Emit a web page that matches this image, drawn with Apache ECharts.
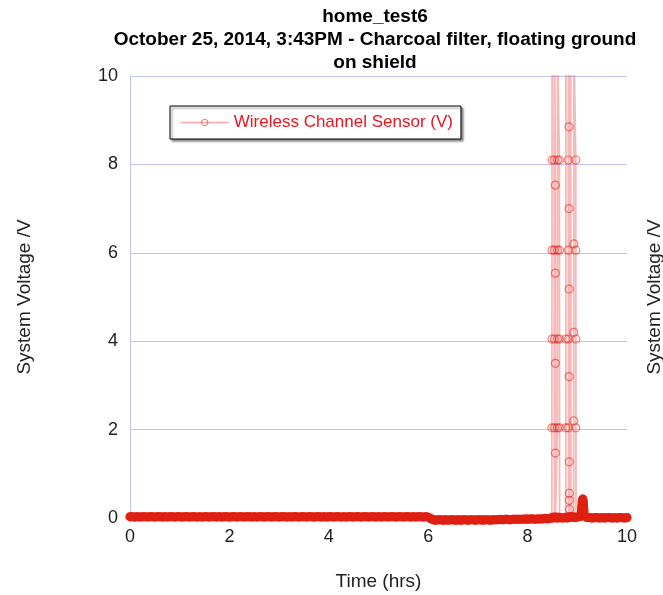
<!DOCTYPE html>
<html>
<head>
<meta charset="utf-8">
<script src="https://cdn.jsdelivr.net/npm/echarts@6/dist/echarts.min.js"></script>
<style>
  html, body { margin: 0; padding: 0; background: #fff; }
  #chart { width: 663px; height: 595px; }
</style>
</head>
<body>
<div id="chart"></div>
<script>
// Logger samples, hours since start (quiet period before the spikes)
const baseTimes = [
  0,0.05,0.1,0.15,0.2,0.25,0.3,0.35,0.4,0.45,0.5,0.55,0.6,0.65,0.7,0.75,0.8,0.85,0.9,0.95,
  1,1.05,1.1,1.15,1.2,1.25,1.3,1.35,1.4,1.45,1.5,1.55,1.6,1.65,1.7,1.75,1.8,1.85,1.9,1.95,
  2,2.05,2.1,2.15,2.2,2.25,2.3,2.35,2.4,2.45,2.5,2.55,2.6,2.65,2.7,2.75,2.8,2.85,2.9,2.95,
  3,3.05,3.1,3.15,3.2,3.25,3.3,3.35,3.4,3.45,3.5,3.55,3.6,3.65,3.7,3.75,3.8,3.85,3.9,3.95,
  4,4.05,4.1,4.15,4.2,4.25,4.3,4.35,4.4,4.45,4.5,4.55,4.6,4.65,4.7,4.75,4.8,4.85,4.9,4.95,
  5,5.05,5.1,5.15,5.2,5.25,5.3,5.35,5.4,5.45,5.5,5.55,5.6,5.65,5.7,5.75,5.8,5.85,5.9,5.95,
  6,6.05,6.1,6.15,6.2,6.25,6.3,6.35,6.4,6.45,6.5,6.55,6.6,6.65,6.7,6.75,6.8,6.85,6.9,6.95,
  7,7.05,7.1,7.15,7.2,7.25,7.3,7.35,7.4,7.45,7.5,7.55,7.6,7.65,7.7,7.75,7.8,7.85,7.9,7.95,
  8,8.05,8.1,8.15,8.2,8.25,8.3,8.35,8.4,8.45
];
// Sensor voltage (V) for baseTimes
const baseVolts = [
  0.03,0.03,0.02,0.03,0.02,0.03,0.03,0.02,0.03,0.03,0.02,0.03,0.03,0.02,0.03,0.02,0.03,0.03,0.02,0.03,
  0.03,0.02,0.03,0.03,0.02,0.03,0.03,0.02,0.03,0.02,0.03,0.03,0.02,0.03,0.03,0.02,0.03,0.02,0.03,0.03,
  0.02,0.03,0.03,0.02,0.03,0.03,0.02,0.03,0.03,0.02,0.03,0.02,0.03,0.03,0.02,0.03,0.03,0.02,0.03,0.03,
  0.02,0.03,0.03,0.02,0.03,0.02,0.03,0.03,0.02,0.03,0.03,0.02,0.03,0.03,0.02,0.03,0.03,0.02,0.03,0.02,
  0.03,0.03,0.02,0.03,0.03,0.02,0.03,0.02,0.03,0.03,0.02,0.03,0.03,0.02,0.03,0.03,0.02,0.03,0.03,0.02,
  0.03,0.02,0.03,0.03,0.02,0.03,0.03,0.02,0.03,0.03,0.02,0.03,0.03,0.02,0.03,0.02,0.03,0.03,0.02,0.03,
  0.02,-0.01,-0.04,-0.05,-0.04,-0.04,-0.05,-0.04,-0.05,-0.04,-0.04,-0.05,-0.04,-0.05,-0.04,-0.04,-0.05,-0.04,-0.04,-0.05,
  -0.04,-0.04,-0.05,-0.04,-0.04,-0.05,-0.04,-0.04,-0.04,-0.03,-0.04,-0.03,-0.03,-0.04,-0.03,-0.03,-0.03,-0.03,-0.03,-0.02,
  -0.03,-0.02,-0.02,-0.03,-0.02,-0.02,-0.02,-0.01,-0.02,-0.01
];
// Near-zero samples between the spikes
const midTimes = [8.5,8.55,8.6,8.65,8.7,8.75,8.8,8.85,8.9,8.95];
const midVolts = [0.0,0.01,0.0,0.01,0.0,0.01,0.0,0.02,0.03,0.01];
// Small hump after the spikes, then quiet to the end
const tailTimes = [9.0,9.05,9.08,9.09,9.1,9.11,9.12,9.13,9.14,9.16,9.2,
  9.25,9.3,9.35,9.4,9.45,9.5,9.55,9.6,9.65,9.7,9.75,9.8,9.85,9.9,9.95,10];
const tailVolts = [0.02,0.03,0.1,0.25,0.38,0.43,0.38,0.2,0.06,0.02,0.01,
  0.01,0.0,0.01,0.01,0.0,0.01,0.0,0.01,0.01,0.0,0.01,0.0,0.01,0.01,0.0,0.01];
// Excursions that saturate past the top of the range
const spikeTimes = [
  8.488,8.489,8.49,8.491,8.492,8.493,
  8.535,8.536,8.537,8.538,8.539,8.54,
  8.545,8.546,
  8.556,8.557,8.558,8.559,8.56,8.561,
  8.598,8.599,8.6,8.601,8.602,8.603,
  8.638,8.639,8.64,8.641,8.642,8.643,
  8.768,8.769,8.77,8.771,
  8.818,8.819,8.82,8.821,8.822,8.823,
  8.826,8.827,
  8.832,8.833,8.834,8.835,8.836,8.837,8.838,8.839,8.84,8.841,
  8.868,8.869,8.872,8.873,
  8.928,8.929,8.93,8.931,8.932,
  8.968,8.969,8.97,8.971,8.972,8.973
];
const spikeVolts = [
  0.02,2.04,4.05,6.06,8.1,10.8,
  10.8,8.1,6.06,4.05,2.04,0.02,
  0.02,10.8,
  10.8,7.53,5.54,3.5,1.47,0.02,
  0.02,2.04,4.05,6.06,8.1,10.8,
  10.8,8.1,6.06,4.05,2.04,0.02,
  0.02,2.04,4.05,10.8,
  10.8,8.1,6.06,4.05,2.04,0.02,
  0.02,10.8,
  10.8,8.85,7.0,5.18,3.2,1.27,0.56,0.4,0.2,0.02,
  0.02,10.8,10.8,0.02,
  0.02,2.2,4.2,6.2,10.8,
  10.8,8.1,6.06,4.05,2.04,0.02
];
const xTicks = [0, 2, 4, 6, 8, 10];
const yTicks = [0, 2, 4, 6, 8, 10];

const seriesName = 'Wireless Channel Sensor (V)';
const pair = (ts, vs) => ts.map((t, i) => [t, vs[i]]);
const quietData = pair(baseTimes, baseVolts)
  .concat(pair(midTimes, midVolts))
  .concat(pair(tailTimes, tailVolts));
const spikeData = pair(spikeTimes, spikeVolts);

const gridColor = '#c4c4f2';
const font = 'Liberation Sans, Arial, sans-serif';
const markStyle = {
  color: 'rgba(0,0,0,0)',
  borderColor: 'rgba(226,30,20,0.55)',
  borderWidth: 1.2
};
const thinLine = { color: 'rgba(238,100,95,0.45)', width: 1.8 };

const chart = echarts.init(document.getElementById('chart'), null, { renderer: 'canvas' });
chart.setOption({
  animation: false,
  backgroundColor: '#fff',
  title: {
    text: 'home_test6\nOctober 25, 2014, 3:43PM - Charcoal filter, floating ground\non shield',
    left: 370,
    top: 0,
    textAlign: 'center',
    textStyle: { fontFamily: font, fontSize: 19, fontWeight: 'bold', color: '#000', lineHeight: 23 }
  },
  legend: {
    data: [{
      name: seriesName,
      itemStyle: { color: 'rgba(0,0,0,0)', borderColor: 'rgba(226,30,20,0.6)', borderWidth: 1 },
      lineStyle: { color: 'rgba(238,110,105,0.6)', width: 1.5 }
    }],
    left: 170,
    top: 106,
    padding: [8, 8, 8, 10],
    itemWidth: 48,
    itemHeight: 8,
    itemGap: 5,
    backgroundColor: '#fff',
    borderColor: '#000',
    borderWidth: 1,
    borderRadius: 0,
    shadowColor: 'rgba(0,0,0,0.45)',
    shadowOffsetX: 2,
    shadowOffsetY: 2,
    shadowBlur: 2,
    textStyle: { fontFamily: font, fontSize: 17, color: '#e8141e' }
  },
  grid: { left: 130, right: 36, top: 76, bottom: 77, outerBoundsMode: 'none', containLabel: false },
  xAxis: [{
    type: 'value', min: 0, max: 10, interval: 2,
    name: 'Time (hrs)', nameLocation: 'middle', nameGap: 54,
    nameTextStyle: { fontFamily: font, fontSize: 19, color: '#222' },
    axisLine: { show: true, lineStyle: { color: gridColor } },
    axisTick: { show: true, inside: true, length: 5, lineStyle: { color: gridColor } },
    axisLabel: { fontFamily: font, fontSize: 18, color: '#222', margin: 10,
      formatter: v => xTicks.includes(v) ? String(v) : '' },
    splitLine: { show: false }
  }, {
    type: 'value', min: 0, max: 10, interval: 2, position: 'top',
    axisLine: { show: true, lineStyle: { color: gridColor } },
    axisTick: { show: true, inside: true, length: 5, lineStyle: { color: gridColor } },
    axisLabel: { show: false },
    splitLine: { show: false }
  }],
  yAxis: [{
    type: 'value', min: 0, max: 10, interval: 2,
    name: 'System Voltage /V', nameLocation: 'middle', nameGap: 96, nameRotate: 90,
    nameTextStyle: { fontFamily: font, fontSize: 19, color: '#222' },
    axisLine: { show: true, lineStyle: { color: gridColor } },
    axisTick: { show: false },
    axisLabel: { fontFamily: font, fontSize: 18, color: '#222', margin: 12,
      formatter: v => yTicks.includes(v) ? String(v) : '' },
    splitLine: { show: true, lineStyle: { color: gridColor, width: 1 } }
  }, {
    type: 'value', min: 0, max: 10, interval: 2, position: 'right',
    name: 'System Voltage /V', nameLocation: 'middle', nameGap: 18, nameRotate: 90,
    nameTextStyle: { fontFamily: font, fontSize: 19, color: '#222' },
    axisLine: { show: true, lineStyle: { color: gridColor } },
    axisTick: { show: false },
    axisLabel: { show: false },
    splitLine: { show: false }
  }],
  series: [{
    name: seriesName,
    type: 'line',
    data: spikeData,
    clip: true,
    symbol: 'circle',
    symbolSize: 8,
    showAllSymbol: true,
    itemStyle: markStyle,
    lineStyle: thinLine,
    z: 2
  }, {
    // quiet stretches: samples are so dense that the trace reads as a solid band
    name: seriesName,
    type: 'line',
    data: quietData,
    clip: false,
    symbol: 'circle',
    symbolSize: 8,
    showAllSymbol: true,
    itemStyle: markStyle,
    lineStyle: { color: '#dc2410', width: 9, cap: 'round', join: 'round' },
    z: 3
  }]
});
</script>
</body>
</html>
